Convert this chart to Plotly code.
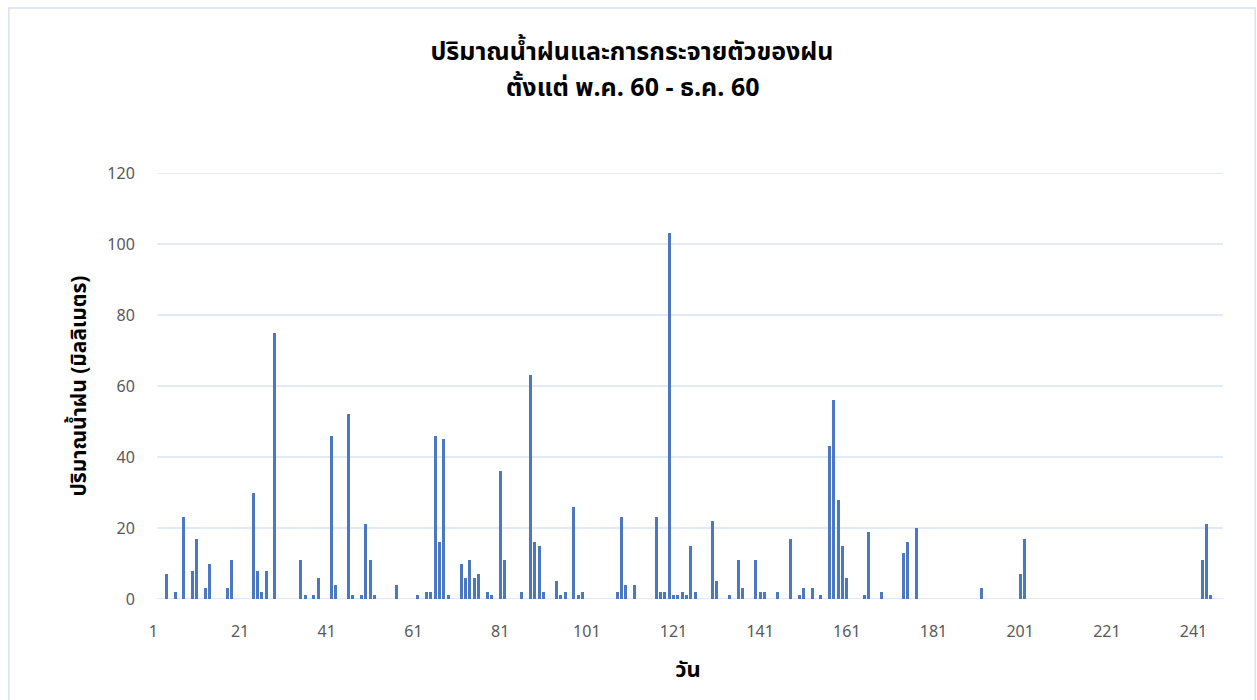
import plotly.graph_objects as go

# ---- data (day index counted from 1 May 2560, rainfall in mm) ----
days = [4, 6, 8, 10, 11, 13, 14, 18, 19, 24, 25, 26, 27, 29, 35, 36, 38, 39,
        42, 43, 46, 47, 49, 50, 51, 52, 57, 62, 64, 65, 66, 67, 68, 69,
        72, 73, 74, 75, 76, 78, 79, 81, 82, 86, 88, 89, 90, 91, 94, 95, 96,
        98, 99, 100, 108, 109, 110, 112, 117, 118, 119, 120, 121, 122, 123,
        124, 125, 126, 130, 131, 134, 136, 137, 140, 141, 142, 145, 148, 150,
        151, 153, 155, 157, 158, 159, 160, 161, 165, 166, 169, 174, 175, 177,
        192, 201, 202, 243, 244, 245]
rain = [7, 2, 23, 8, 17, 3, 10, 3, 11, 30, 8, 2, 8, 75, 11, 1, 1, 6,
        46, 4, 52, 1, 1, 21, 11, 1, 4, 1, 2, 2, 46, 16, 45, 1,
        10, 6, 11, 6, 7, 2, 1, 36, 11, 2, 63, 16, 15, 2, 5, 1, 2,
        26, 1, 2, 2, 23, 4, 4, 23, 2, 2, 103, 1, 1, 2,
        1, 15, 2, 22, 5, 1, 11, 3, 11, 2, 2, 2, 17, 1,
        3, 3, 1, 43, 56, 28, 15, 6, 1, 19, 2, 13, 16, 20,
        3, 7, 17, 11, 21, 1]

x_ticks = [1, 21, 41, 61, 81, 101, 121, 141, 161, 181, 201, 221, 241]
y_ticks = [0, 20, 40, 60, 80, 100, 120]

title_line1 = "ปริมาณน้ำฝนและการกระจายตัวของฝน"
title_line2 = "ตั้งแต่ พ.ค. 60 - ธ.ค. 60"
x_title = "วัน"
y_title = "ปริมาณน้ำฝน (มิลลิเมตร)"

# ---- layout constants ----
W, H = 1257, 700
ML, MR, MT, MB = 153.07, 34.3, 172.7, 100.6
X_RANGE = [0.9, 247.8]
GRID_X0 = 1.88
GRID_COLOR = "#d9e3f3"
BAR_COLOR = "#4b78c1"
FONT = "Tahoma, 'Noto Sans Thai', 'Leelawadee UI', 'DejaVu Sans', sans-serif"
TICK_COLOR = "#595959"
TITLE_SIZE = 25

fig = go.Figure()
fig.add_trace(go.Bar(x=days, y=rain, width=0.68,
                     marker=dict(color=BAR_COLOR, line=dict(width=0)),
                     showlegend=False, hoverinfo="x+y"))

pw = W - ML - MR
ph = H - MT - MB
def px_x(p):
    return (p - ML) / pw
def px_y(p):
    return 1 - (p - MT) / ph

shapes = []
for v in y_ticks:
    shapes.append(dict(type="line", xref="x", yref="y", x0=GRID_X0, x1=X_RANGE[1],
                       y0=v, y1=v, layer="below",
                       line=dict(color=GRID_COLOR, width=1.5)))

# chart-area border
shapes.append(dict(type="rect", xref="paper", yref="paper",
                   x0=px_x(9), x1=px_x(1255), y0=px_y(7.5), y1=px_y(710),
                   line=dict(color="#d6e1f2", width=1.5), fillcolor="rgba(0,0,0,0)",
                   layer="below"))

annotations = [
    dict(text="<b>" + title_line2 + "</b>", xref="paper", yref="paper",
         x=px_x(632), y=px_y(88), xanchor="center", yanchor="middle",
         showarrow=False, font=dict(family=FONT, size=TITLE_SIZE, color="#000000")),
]

fig.update_layout(
    width=W, height=H,
    margin=dict(l=ML, r=MR, t=MT, b=MB, pad=0),
    paper_bgcolor="white", plot_bgcolor="white",
    font=dict(family=FONT, color=TICK_COLOR, size=16),
    bargap=0,
    title=dict(text="<b>" + title_line1 + "</b>",
               x=632 / W, xref="container", xanchor="center",
               y=1 - 51 / H, yref="container", yanchor="middle",
               font=dict(family=FONT, size=TITLE_SIZE, color="#000000")),
    xaxis=dict(range=X_RANGE, tickmode="array", tickvals=x_ticks,
               ticktext=[str(t) for t in x_ticks], showgrid=False,
               zeroline=False, showline=False, ticks="outside", ticklen=0,
               ticklabelstandoff=18, tickfont=dict(size=16, color=TICK_COLOR),
               title=dict(text="<b>" + x_title + "</b>", standoff=18,
                          font=dict(size=22, color="#000000"))),
    yaxis=dict(range=[0, 120], tickmode="array", tickvals=y_ticks,
               showgrid=False, zeroline=False, showline=False,
               ticks="outside", ticklen=0, ticklabelstandoff=14,
               tickfont=dict(size=16, color=TICK_COLOR),
               title=dict(text="<b>" + y_title + "</b>", standoff=14,
                          font=dict(size=21, color="#000000"))),
    shapes=shapes,
    annotations=annotations,
)

fig.write_html("out.html")
